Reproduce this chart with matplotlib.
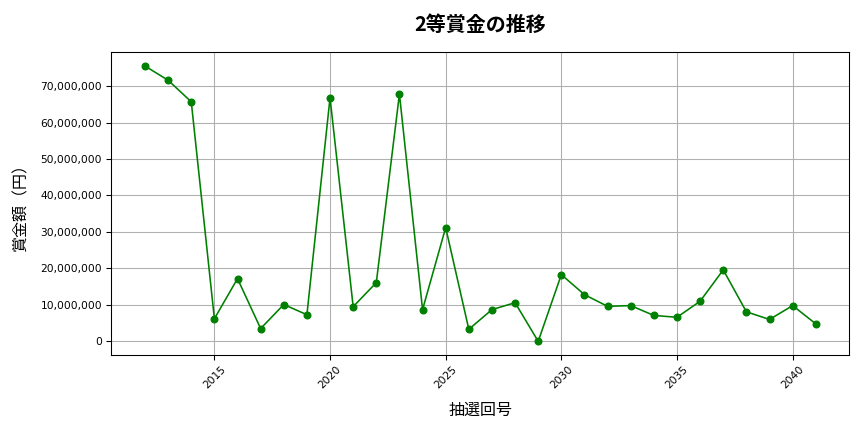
import matplotlib
matplotlib.use('Agg')
import matplotlib.pyplot as plt
from matplotlib.ticker import FuncFormatter

JP = ['Noto Sans CJK JP', 'DejaVu Sans']

draws = list(range(2012, 2042))
prize = [75.5, 71.6, 65.7, 6.2, 17.2, 3.5, 10.1, 7.3, 66.8, 9.5,
         16.1, 67.8, 8.7, 31.2, 3.3, 8.7, 10.6, 0.0, 18.3, 12.8,
         9.6, 9.8, 7.1, 6.6, 11.0, 19.6, 8.1, 6.0, 9.8, 4.8]
prize = [v * 1e6 for v in prize]

fig, ax = plt.subplots(figsize=(9, 4.5), dpi=96)
ax.plot(draws, prize, marker='o', color='green', markersize=5, linewidth=1.2)
ax.set_title('2等賞金の推移', fontsize=15, fontweight='bold', pad=16, family=JP)
ax.set_xlabel('抽選回号', fontsize=12, labelpad=8, family=JP)
ax.set_ylabel('賞金額（円）', fontsize=12, labelpad=8, family=JP)
ax.yaxis.set_major_formatter(FuncFormatter(lambda v, p: f'{int(v):,}'))
ax.tick_params(axis='x', rotation=45, labelsize=8)
ax.tick_params(axis='y', labelsize=8)
ax.grid(True, color='#b0b0b0', linewidth=0.8)
fig.subplots_adjust(left=0.129, right=0.983, top=0.879, bottom=0.178)
fig.savefig('out.png')
